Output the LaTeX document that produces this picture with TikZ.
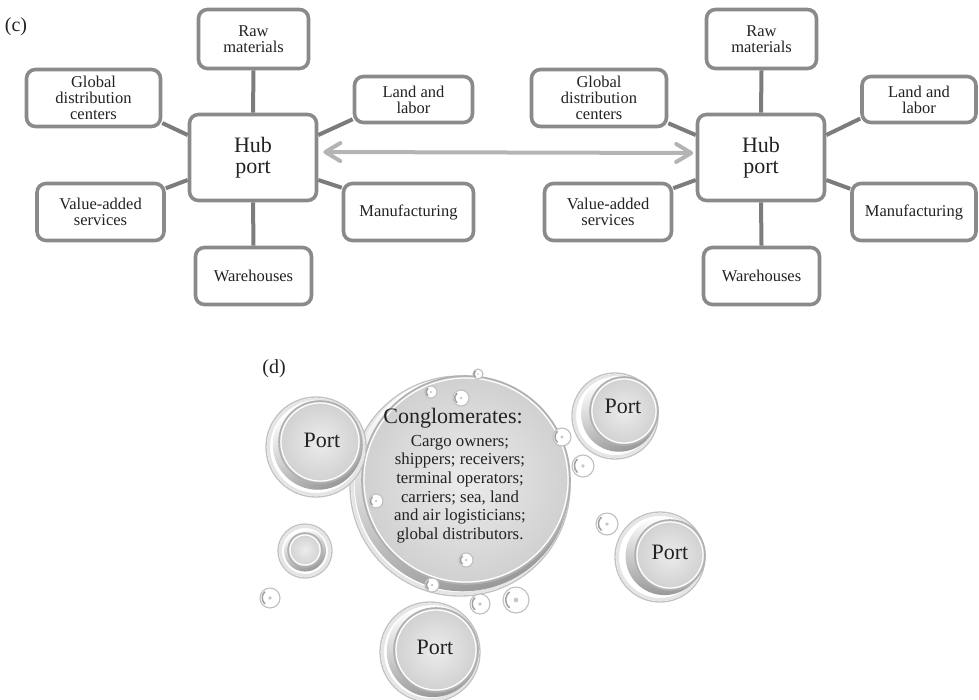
\documentclass[tikz,border=0pt]{standalone}
\usepackage{fontspec}
\setmainfont{Liberation Serif}
\usetikzlibrary{arrows.meta,calc}
\definecolor{boxline}{HTML}{8A8A8C}
\definecolor{linkline}{HTML}{7C7C7E}
\definecolor{arrowgray}{HTML}{B4B4B4}
\definecolor{inkgray}{HTML}{222222}
\definecolor{discgray}{HTML}{D0D0D0}

% a water drop: disc centre (#1,#2), disc radius #3,
% halo offset (#4,#5), halo radius #6, angle of the dark rim #7
\newcommand{\waterdrop}[7]{%
  \fill[white] ($(#1,#2)+(#4,#5)$) circle (#6);
  \draw[gray!20, line width=3pt] ($(#1,#2)+(#4,#5)$) circle (#6-2.5);
  \draw[gray!48, line width=1.3pt] ($(#1,#2)+(#4,#5)$) circle (#6);
  \begin{scope}
    \clip ($(#1,#2)+(#4,#5)$) circle (#6-1);
    \shade[left color=gray!80, right color=white, shading angle=#7]
      ($(#1,#2)+(#4*0.55,#5*0.55)$) circle (#3+4);
  \end{scope}
  \shade[inner color=gray!15, outer color=discgray] (#1,#2) circle (#3);
  \draw[gray!62, line width=1.6pt] (#1,#2) circle (#3);
  \draw[white, line width=1.2pt] (#1,#2) circle (#3-2);
}
% a small droplet with a faint centre dot
\newcommand{\droplet}[3]{%
  \fill[white] (#1,#2) circle (#3);
  \draw[gray!50, line width=1.1pt] (#1,#2) circle (#3);
  \draw[gray!75, line width=1.5pt] ($(#1,#2)+(-#3*0.5,#3*0.6)$) arc (130:230:#3*0.8);
  \fill[gray!45] (#1,#2) circle (#3*0.18);
}

\begin{document}
\begin{tikzpicture}[x=1pt,y=-1pt,
  sat/.style={draw=boxline, line width=3.6pt, rounded corners=9pt, fill=white,
    align=center, inner sep=0pt, text=inkgray, font=\fontsize{16.5}{16}\selectfont},
  hubbox/.style={sat, minimum width=127pt, minimum height=86pt,
    font=\fontsize{22}{21}\selectfont},
  link/.style={draw=linkline, line width=4pt},
  twoway/.style={draw=arrowgray, line width=4pt,
    {Straight Barb[length=15pt,width=18pt,round]}-{Straight Barb[length=15pt,width=18pt,round]}},
  panel/.style={text=inkgray, font=\fontsize{20}{20}\selectfont, inner sep=0pt},
  portlabel/.style={text=inkgray, font=\fontsize{22}{22}\selectfont, inner sep=0pt}]

\useasboundingbox (0,0) rectangle (979,699);

% ---------------- (c) two hub ports ----------------
\node[panel] (labc) at (16,27) {(c)};

% left cluster
\node[hubbox] (hubL) at (253,157.5) {Hub\\port};
\node[sat, minimum width=110pt, minimum height=59pt] (rawL) at (253.5,39) {Raw\\materials};
\node[sat, minimum width=134pt, minimum height=57pt] (globL) at (93.5,98) {Global\\distribution\\centers};
\node[sat, minimum width=118pt, minimum height=46pt] (landL) at (413.5,99.5) {Land and\\labor};
\node[sat, minimum width=127pt, minimum height=57pt] (valL) at (100.5,212) {Value-added\\services};
\node[sat, minimum width=130pt, minimum height=57pt] (manL) at (408.5,212) {Manufacturing};
\node[sat, minimum width=116pt, minimum height=57pt] (wareL) at (253.5,276) {Warehouses};

\draw[link] (hubL.north) -- (rawL.south);
\draw[link] (hubL.south) -- (wareL.north);
\draw[link] (hubL.161) -- (globL.-20);
\draw[link] (hubL.199) -- (valL.20);
\draw[link] (hubL.19) -- (landL.198);
\draw[link] (hubL.-19) -- (manL.160);

% right cluster
\node[hubbox] (hubR) at (761,157.5) {Hub\\port};
\node[sat, minimum width=110pt, minimum height=59pt] (rawR) at (761.5,39) {Raw\\materials};
\node[sat, minimum width=135pt, minimum height=57pt] (globR) at (599,98) {Global\\distribution\\centers};
\node[sat, minimum width=114pt, minimum height=46pt] (landR) at (919,99.5) {Land and\\labor};
\node[sat, minimum width=127pt, minimum height=57pt] (valR) at (608,212) {Value-added\\services};
\node[sat, minimum width=124pt, minimum height=57pt] (manR) at (914,212) {Manufacturing};
\node[sat, minimum width=116pt, minimum height=57pt] (wareR) at (761.5,276) {Warehouses};

\draw[link] (hubR.north) -- (rawR.south);
\draw[link] (hubR.south) -- (wareR.north);
\draw[link] (hubR.161) -- (globR.-20);
\draw[link] (hubR.199) -- (valR.20);
\draw[link] (hubR.19) -- (landR.198);
\draw[link] (hubR.-19) -- (manR.160);

% two-way link between the hubs
\draw[twoway] ([xshift=5pt,yshift=5.5pt]hubL.east) -- ([xshift=-2.5pt,yshift=4.5pt]hubR.west);

% ---------------- (d) conglomerate bubbles ----------------
\node[panel] (labd) at (274,369) {(d)};

\waterdrop{466}{480}{104}{-6}{6}{110}{200}
\waterdrop{320}{442}{41}{-4}{5}{50}{210}
\waterdrop{624}{411}{34}{-9}{5}{43}{200}
\waterdrop{670}{555}{35}{-10}{2}{45}{180}
\waterdrop{436}{650}{42}{-6}{2}{50}{190}
\waterdrop{305}{550}{17}{0}{1}{27}{200}

\droplet{270}{598}{10}
\droplet{480}{604}{10}
\droplet{516}{600}{13}
\droplet{562}{437}{9}
\droplet{583}{466}{11}
\droplet{607}{524}{11}
\droplet{431}{392}{6}
\droplet{461}{398}{8}
\droplet{376}{501}{7}
\droplet{466}{560}{7}
\droplet{432}{585}{7}
\droplet{478}{374}{5}

\node[text=inkgray, font=\fontsize{22}{22}\selectfont, inner sep=0pt, anchor=base]
  (congtitle) at (453,423) {Conglomerates:};
\node[text=inkgray, font=\fontsize{16.8}{18.6}\selectfont, inner sep=0pt, align=center]
  (congbody) at (460,489) {Cargo owners;\\shippers; receivers;\\terminal operators;\\carriers; sea, land\\and air logisticians;\\global distributors.};

\node[portlabel] (portA) at (322,440) {Port};
\node[portlabel] (portB) at (623,406) {Port};
\node[portlabel] (portC) at (670,552.5) {Port};
\node[portlabel] (portD) at (435,647.5) {Port};
\end{tikzpicture}
\end{document}
